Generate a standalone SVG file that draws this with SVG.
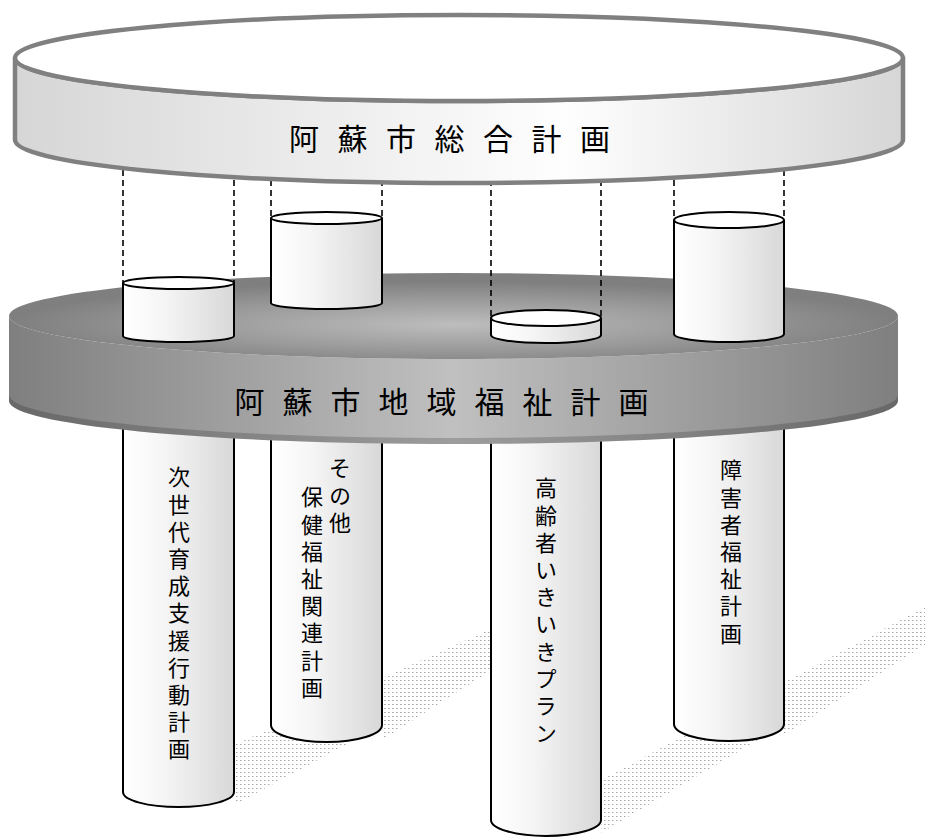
<svg xmlns="http://www.w3.org/2000/svg" width="925" height="837" viewBox="0 0 925 837">
  <style>
    .cyl { fill: url(#cylGrad); stroke: #000; stroke-width: 2; }
    .cyltop { fill: #fff; stroke: #000; stroke-width: 2; }
    .dash { stroke: #000; stroke-width: 1.6; stroke-dasharray: 6 4; fill: none; }
    .shadow { fill: url(#dots); stroke: none; }
    .big { font-family: "Noto Sans CJK JP", "Noto Sans CJK SC", sans-serif; font-size: 30px; fill: #000; text-anchor: middle; }
    .vt { font-family: "Noto Sans CJK JP", "Noto Sans CJK SC", sans-serif; font-size: 22px; fill: #000; writing-mode: vertical-rl; letter-spacing: 5.2px; }
  </style>
  <defs>
    <linearGradient id="cylGrad" x1="0" y1="0" x2="1" y2="0">
      <stop offset="0" stop-color="#ffffff"/>
      <stop offset="0.35" stop-color="#f6f6f6"/>
      <stop offset="1" stop-color="#d8d8d8"/>
    </linearGradient>
    <linearGradient id="topSide" x1="0" y1="0" x2="1" y2="0">
      <stop offset="0" stop-color="#d6d6d6"/>
      <stop offset="0.62" stop-color="#fefefe"/>
      <stop offset="1" stop-color="#d6d6d6"/>
    </linearGradient>
    <linearGradient id="midSide" x1="0" y1="0" x2="1" y2="0">
      <stop offset="0" stop-color="#7f7f7f"/>
      <stop offset="0.5" stop-color="#c0c0c0"/>
      <stop offset="1" stop-color="#7f7f7f"/>
    </linearGradient>
    <radialGradient id="midTop" cx="0.5" cy="0.6" r="0.5">
      <stop offset="0" stop-color="#bdbdbd"/>
      <stop offset="0.6" stop-color="#999999"/>
      <stop offset="1" stop-color="#7f7f7f"/>
    </radialGradient>
    <pattern id="dots" width="4" height="4" patternUnits="userSpaceOnUse">
      <rect x="0" y="0" width="1.5" height="1" fill="#a8a8a8"/>
    </pattern>
  </defs>

  <g id="shadows">
    <polygon class="shadow" points="234,745 495,627 495,665 234,805"/>
    <polygon class="shadow" points="382,700 495,650 495,668 382,740"/>
    <polygon class="shadow" points="601,780 925,607 925,641 601,833"/>
    <polygon class="shadow" points="784,700 925,625 925,645 784,735"/>
  </g>

  <g id="pillar-1">
    <path class="cyl" d="M123,380 V792 A55.5,15 0 0 0 234,792 V380"/>
    <text class="vt" x="179" y="466">次世代育成支援行動計画</text>
  </g>
  <g id="pillar-2">
    <path class="cyl" d="M271,380 V725 A55.5,17 0 0 0 382,725 V380"/>
    <text class="vt" x="340" y="457">その他</text>
    <text class="vt" x="312" y="486">保健福祉関連計画</text>
  </g>
  <g id="pillar-3">
    <path class="cyl" d="M491,380 V820 A55,16 0 0 0 601,820 V380"/>
    <text class="vt" x="546" y="477">高齢者いきいきプラン</text>
  </g>
  <g id="pillar-4">
    <path class="cyl" d="M674,380 V724 A55,17 0 0 0 784,724 V380"/>
    <text class="vt" x="731" y="459">障害者福祉計画</text>
  </g>

  <g id="middle-disc">
    <path d="M9,316 A444.5,43 0 0 0 898,316 V401 A444.5,43 0 0 1 9,401 Z" fill="url(#midSide)"/>
    <path d="M9,395 A444.5,43 0 0 0 898,395 V401 A444.5,43 0 0 1 9,401 Z" fill="#000" fill-opacity="0.18"/>
    <ellipse cx="453.5" cy="316" rx="444.5" ry="43" fill="url(#midTop)"/>
    <text class="big" x="249.5 297.5 345.5 393.5 441.5 489.5 537.5 585.5 633.5" y="413">阿蘇市地域福祉計画</text>
  </g>

  <g id="connectors">
    <line class="dash" x1="123" y1="150" x2="123" y2="283"/>
    <line class="dash" x1="234" y1="150" x2="234" y2="283"/>
    <line class="dash" x1="271" y1="150" x2="271" y2="218"/>
    <line class="dash" x1="382" y1="150" x2="382" y2="218"/>
    <line class="dash" x1="491" y1="150" x2="491" y2="318"/>
    <line class="dash" x1="601" y1="150" x2="601" y2="318"/>
    <line class="dash" x1="674" y1="150" x2="674" y2="220"/>
    <line class="dash" x1="784" y1="150" x2="784" y2="220"/>
  </g>

  <g id="cyl-a">
    <path class="cyl" d="M123,283 V336 A55.5,6 0 0 0 234,336 V283"/>
    <ellipse class="cyltop" cx="178.5" cy="283" rx="55.5" ry="6"/>
  </g>
  <g id="cyl-b">
    <path class="cyl" d="M271,218 V303 A55.5,6 0 0 0 382,303 V218"/>
    <ellipse class="cyltop" cx="326.5" cy="218" rx="55.5" ry="6"/>
  </g>
  <g id="cyl-c">
    <path class="cyl" d="M491,318 V335 A55,8 0 0 0 601,335 V318"/>
    <ellipse class="cyltop" cx="546" cy="318" rx="55" ry="8"/>
  </g>
  <g id="cyl-d">
    <path class="cyl" d="M674,220 V334 A55,8 0 0 0 784,334 V220"/>
    <ellipse class="cyltop" cx="729" cy="220" rx="55" ry="8"/>
  </g>

  <g id="top-disc">
    <path d="M15,58 A444,43 0 0 0 903,58 V140 A444,43 0 0 1 15,140 Z" fill="url(#topSide)" stroke="#808080" stroke-width="4.5" stroke-linejoin="round"/>
    <ellipse cx="459" cy="58" rx="444" ry="43" fill="#fff" stroke="#808080" stroke-width="4.5"/>
    <text class="big" x="304 352.5 401 449.5 498 546.5 595" y="150">阿蘇市総合計画</text>
  </g>
</svg>
